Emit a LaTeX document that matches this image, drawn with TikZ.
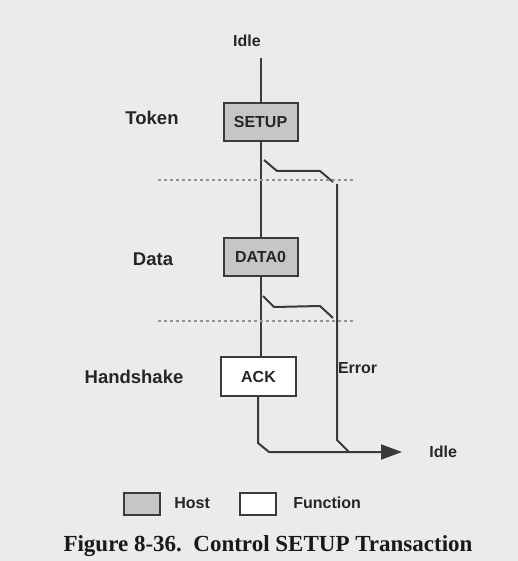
\documentclass[tikz,border=0pt]{standalone}
\usepackage{fontspec}
\setmainfont{Liberation Serif}
\setsansfont{Liberation Sans}
\usetikzlibrary{arrows.meta}
\definecolor{bgcol}{HTML}{EBEBEB}
\definecolor{hostcol}{HTML}{C6C6C6}
\definecolor{linecol}{HTML}{3A3A3A}

\begin{document}
\begin{tikzpicture}[x=1pt,y=-1pt,line width=2pt,draw=linecol,
	pid/.style={draw=linecol,fill=hostcol,minimum width=74pt,minimum height=38pt,inner sep=0pt,
		font=\sffamily\bfseries\fontsize{16}{16}\selectfont,text=black!85},
	fnbox/.style={pid,fill=white},
	stage/.style={font=\sffamily\bfseries\fontsize{18.5}{18.5}\selectfont,text=black!85},
	small/.style={font=\sffamily\bfseries\fontsize{16}{16}\selectfont,text=black!85},
	sep/.style={dash pattern=on 2.5pt off 3.5pt,line width=1.6pt,draw=gray!85}]
	\fill[bgcol] (0,0) rectangle (518,561);
	\useasboundingbox (0,0) rectangle (518,561);
	% stages
	\node[stage] (token) at (152,118) {Token};
	\node[stage] (data) at (153,259) {Data};
	\node[stage] (hand) at (134,377) {Handshake};
	% packets
	\node[pid] (setup) at (260.5,122) {SETUP};
	\node[pid] (data0) at (260.5,257) {DATA0};
	\node[fnbox,minimum width=75pt,minimum height=39pt] (ack) at (258.5,376.5) {ACK};
	\node[small] (idle1) at (247,41) {Idle};
	\node[small,anchor=west] (idle2) at (425,452) {Idle};
	\node[small,anchor=west,inner sep=0pt] (err) at (337,368) {Error};
	\coordinate (top) at (260.5,58);
	% main path
	\draw (top) -- (setup);
	\draw (setup) -- (data0);
	\draw (data0.south) -- (data0.south |- ack.north);
	\draw[-{Triangle[length=21pt,width=15pt]}] (ack.south -| 258,0) -- (258,443) -- (269,452) -- (402,452);
	% error path
	\draw (264,160) -- (277,171) -- (320,171) -- (333,182);
	\draw (263,296) -- (274,307) -- (320,306) -- (333,318);
	\draw (337,184) -- (337,440) -- (349,452);
	% separators
	\draw[sep] (158,180) -- (355,180);
	\draw[sep] (158,321) -- (355,321);
	% legend
	\node[pid,minimum width=36pt,minimum height=22pt] (hostkey) at (142,504) {};
	\node[small,anchor=west] at (170,503) {Host};
	\node[fnbox,minimum width=36pt,minimum height=22pt] (fnkey) at (258,504) {};
	\node[small,anchor=west] at (289,503) {Function};
	\node[font=\rmfamily\bfseries\fontsize{23}{23}\selectfont,text=black!90] (cap) at (268,546)
		{Figure 8-36.\ \ Control SETUP Transaction};
\end{tikzpicture}
\end{document}
